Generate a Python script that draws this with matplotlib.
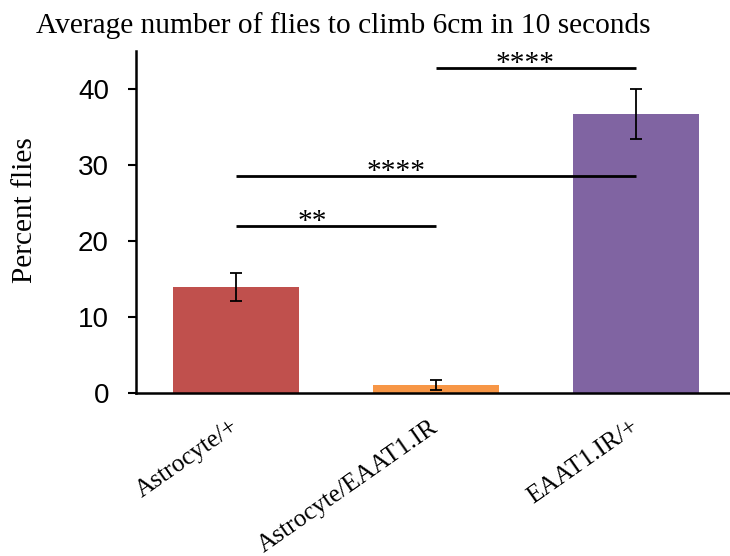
import matplotlib
matplotlib.use("Agg")
import matplotlib.pyplot as plt
import numpy as np

categories = ["Astrocyte/+", "Astrocyte/EAAT1.IR", "EAAT1.IR/+"]
values = [13.95, 1.05, 36.75]
errors = [1.85, 0.6, 3.25]
colors = ["#C0504D", "#F79646", "#8064A2"]
yticks = [0, 10, 20, 30, 40]

# significance comparisons
sig_pairs = [(0, 1), (0, 2), (1, 2)]
sig_heights = [22.0, 28.6, 42.8]
sig_labels = ["**", "****", "****"]

SERIF = ["Liberation Serif", "DejaVu Serif"]
SANS = ["Liberation Sans", "DejaVu Sans"]
FS_SERIF = 21.2
FS_XT = 18.2
FS_SANS = 20

fig = plt.figure(figsize=(7.30, 5.56), dpi=100)
ax = fig.add_axes([0.1863, 0.2932, 0.8137, 0.6142])

x = np.arange(len(categories))
ax.bar(x, values, width=0.63, color=colors, zorder=2)
ax.errorbar(x, values, yerr=errors, fmt="none", ecolor="black",
            elinewidth=1.3, capsize=4, capthick=1.3, zorder=3)

ax.set_xlim(-0.5, 2.47)
ax.set_ylim(0, 45)
ax.set_yticks(yticks)
ax.set_yticklabels([str(t) for t in yticks], family=SANS, fontsize=FS_SANS)
ax.tick_params(axis="y", direction="out", length=6, width=1.5, pad=13.5)
ax.tick_params(axis="x", length=0, pad=23)
ax.set_xticks(x)
ax.set_xticklabels(categories, family=SERIF, fontsize=FS_XT, rotation=35,
                   ha="right", va="center", rotation_mode="anchor")

for s in ["top", "right"]:
    ax.spines[s].set_visible(False)
for s in ["left", "bottom"]:
    ax.spines[s].set_linewidth(1.8)
    ax.spines[s].set_color("black")

text_frac = [0.38, 0.40, 0.445]
for (i, j), h, lab, f in zip(sig_pairs, sig_heights, sig_labels, text_frac):
    ax.plot([x[i], x[j]], [h, h], color="black", lw=2.0, solid_capstyle="butt", zorder=4)
    ax.text(x[i] + f * (x[j] - x[i]), h - 0.4, lab, family=SERIF, fontsize=FS_SERIF,
            ha="center", va="baseline", zorder=5)

fig.text(0.4705, 0.9406, "Average number of flies to climb 6cm in 10 seconds",
         family=SERIF, fontsize=FS_SERIF, ha="center", va="baseline")
fig.text(0.034, 0.6214, "Percent flies", family=SERIF, fontsize=FS_SERIF,
         rotation=90, ha="center", va="center")

fig.savefig("out.png", dpi=100)
